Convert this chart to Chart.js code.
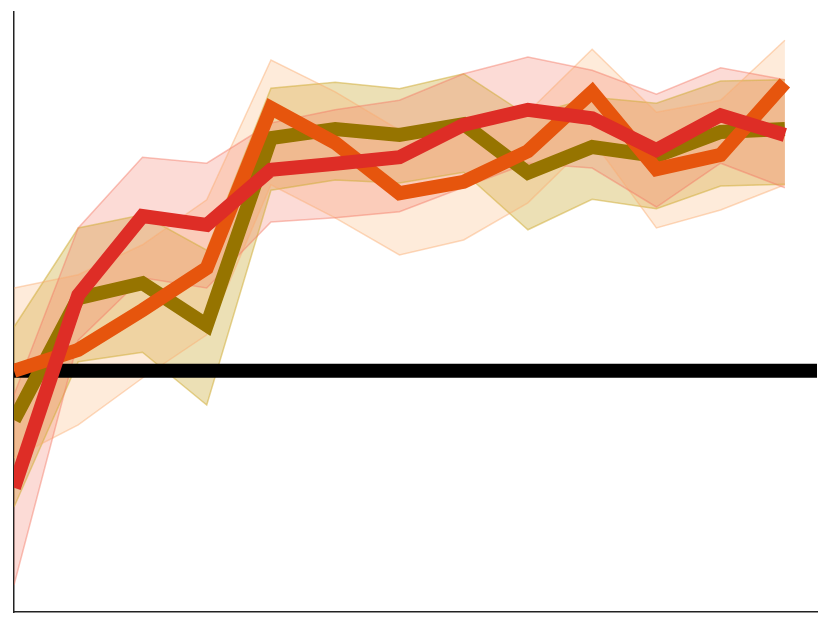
<!DOCTYPE html>
<html>
<head>
<meta charset="utf-8">
<script src="https://cdn.jsdelivr.net/npm/chart.js@4"></script>
<style>
    html, body { margin: 0; padding: 0; background: #fff; }
    #wrap { width: 830px; height: 625px; }
</style>
</head>
<body>
<div id="wrap"><canvas id="trendChart" width="830" height="625"></canvas></div>
<script>
// x positions (steps)
var steps = [0, 1, 2, 3, 4, 5, 6, 7, 8, 9, 10, 11, 12];

// olive series
var oliveMean  = [32.0, 52.3, 54.8, 47.8, 79.0, 80.5, 79.5, 81.3, 73.2, 77.5, 76.0, 80.0, 80.5];
var oliveUpper = [47.5, 64.0, 66.2, 60.3, 87.3, 88.3, 87.2, 89.7, 82.7, 85.8, 84.8, 88.5, 88.7];
var oliveLower = [17.5, 41.7, 43.3, 34.5, 70.3, 72.0, 71.5, 73.3, 63.7, 68.8, 67.2, 71.0, 71.3];

// orange series
var orangeMean  = [40.2, 43.7, 50.3, 57.3, 84.0, 78.2, 69.8, 71.7, 76.8, 86.7, 73.8, 76.2, 88.2];
var orangeUpper = [54.0, 56.2, 61.2, 68.7, 92.0, 86.7, 80.3, 81.7, 83.3, 93.8, 83.3, 85.3, 95.3];
var orangeLower = [25.7, 31.2, 39.0, 46.2, 71.2, 65.7, 59.5, 62.0, 68.2, 78.7, 64.0, 67.0, 71.2];

// red series
var redMean  = [20.7, 52.8, 66.0, 64.5, 73.7, 74.7, 75.8, 81.2, 83.7, 82.3, 77.0, 82.8, 79.5];
var redUpper = [36.2, 64.0, 75.8, 74.8, 81.5, 83.7, 85.3, 89.7, 92.5, 90.3, 86.3, 90.7, 88.7];
var redLower = [4.5, 45.3, 55.7, 54.0, 65.0, 65.7, 66.7, 70.8, 74.8, 74.0, 67.5, 74.8, 70.7];

// horizontal reference level
var baselineLevel = 40.2;
var xMin = 0, xMax = 12.5;
var yMin = 0, yMax = 100;

function toPoints(values) {
    return values.map(function (v, i) { return { x: steps[i], y: v }; });
}

function meanLine(values, color, order) {
    return {
        data: toPoints(values),
        borderColor: color,
        borderWidth: 14,
        borderJoinStyle: 'miter',
        borderCapStyle: 'butt',
        pointRadius: 0,
        fill: false,
        tension: 0,
        clip: 0,
        order: order
    };
}

function bandPair(upper, lower, fillColor, edgeColor) {
    var top = {
        data: toPoints(upper),
        borderColor: edgeColor,
        borderWidth: 1.5,
        backgroundColor: fillColor,
        pointRadius: 0,
        fill: '+1',
        tension: 0,
        clip: 0,
        order: 10
    };
    var bottom = {
        data: toPoints(lower),
        borderColor: edgeColor,
        borderWidth: 1.5,
        pointRadius: 0,
        fill: false,
        tension: 0,
        clip: 0,
        order: 10
    };
    return [top, bottom];
}

// chart.js paints the first dataset last, so the red band goes first to sit on top
var datasets = [];
datasets = datasets.concat(bandPair(redUpper, redLower, 'rgba(245,110,90,0.25)', 'rgba(245,120,100,0.45)'));
datasets = datasets.concat(bandPair(orangeUpper, orangeLower, 'rgba(253,174,107,0.25)', 'rgba(250,170,110,0.45)'));
datasets = datasets.concat(bandPair(oliveUpper, oliveLower, 'rgba(196,160,30,0.33)', 'rgba(210,175,60,0.55)'));

datasets.push({
    data: [{ x: xMin, y: baselineLevel }, { x: xMax, y: baselineLevel }],
    borderColor: '#000000',
    borderWidth: 14,
    borderCapStyle: 'butt',
    pointRadius: 0,
    fill: false,
    clip: 0,
    order: 5
});
datasets.push(meanLine(oliveMean, '#967400', 4));
datasets.push(meanLine(orangeMean, '#e6550d', 3));
datasets.push(meanLine(redMean, '#de2d26', 2));

var trendChart = new Chart(document.getElementById('trendChart'), {
    type: 'line',
    data: { datasets: datasets },
    options: {
        responsive: false,
        animation: false,
        events: [],
        layout: {
            padding: { left: 6, top: 12, right: 13, bottom: 5 }
        },
        plugins: {
            legend: { display: false },
            tooltip: { enabled: false },
            filler: { drawTime: 'beforeDatasetsDraw' }
        },
        scales: {
            x: {
                type: 'linear',
                min: xMin,
                max: xMax,
                ticks: { display: false },
                grid: { display: false },
                border: { display: true, color: '#222222', width: 1.5 }
            },
            y: {
                type: 'linear',
                min: yMin,
                max: yMax,
                ticks: { display: false },
                grid: { display: false },
                border: { display: true, color: '#222222', width: 1.5 }
            }
        }
    }
});
</script>
</body>
</html>
